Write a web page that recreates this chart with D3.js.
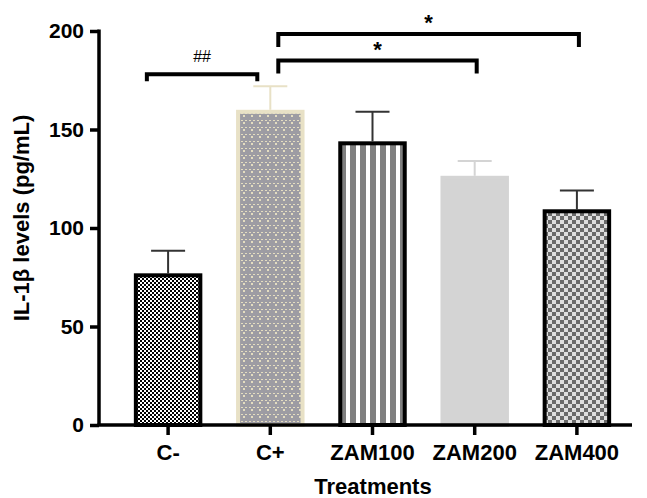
<!DOCTYPE html>
<html>
<head>
<meta charset="utf-8">
<script src="https://cdn.jsdelivr.net/npm/d3@7"></script>
<style>
  body { margin: 0; background: #ffffff; }
  text { font-family: "Liberation Sans", Arial, sans-serif; }
</style>
</head>
<body>
<div id="chart"></div>
<script>
const treatments = ["C-", "C+", "ZAM100", "ZAM200", "ZAM400"];
const meanValues = [77, 160, 144, 126.5, 109.5];
const errorValues = [11.5, 12, 15, 7.5, 9.5];
const yTicks = [0, 50, 100, 150, 200];

// significance brackets: from, to, height (pg/mL), label
const brackets = [
  { from: "C-", to: "C+", level: 178, label: "##" },
  { from: "C+", to: "ZAM200", level: 185, label: "*" },
  { from: "C+", to: "ZAM400", level: 198.5, label: "*" }
];

const width = 647;
const height = 498;

const svg = d3.select("#chart")
  .append("svg")
  .attr("width", width)
  .attr("height", height);

const defs = svg.append("defs");

// fine black/white checker
const p1 = defs.append("pattern").attr("id", "checkFine")
  .attr("patternUnits", "userSpaceOnUse").attr("width", 4).attr("height", 4);
p1.append("rect").attr("width", 4).attr("height", 4).attr("fill", "#ffffff");
p1.append("rect").attr("width", 2).attr("height", 2).attr("fill", "#000000");
p1.append("rect").attr("x", 2).attr("y", 2).attr("width", 2).attr("height", 2).attr("fill", "#000000");

// grey with cream dots
const p2 = defs.append("pattern").attr("id", "dots")
  .attr("patternUnits", "userSpaceOnUse").attr("width", 8).attr("height", 7);
p2.append("rect").attr("width", 8).attr("height", 7).attr("fill", "#9d9ca3");
p2.append("path").attr("d", "M1,1 h2 v1 h-2z M5,1 h2 v1 h-2z M3,3 h2 v2 h-2z")
  .attr("fill", "#e4ddc0");

// vertical stripes
const p3 = defs.append("pattern").attr("id", "stripes")
  .attr("patternUnits", "userSpaceOnUse").attr("width", 10).attr("height", 10);
p3.append("rect").attr("width", 10).attr("height", 10).attr("fill", "#ffffff");
p3.append("rect").attr("width", 6).attr("height", 10).attr("fill", "#808080");

// coarse grey checker
const p4 = defs.append("pattern").attr("id", "checkCoarse")
  .attr("patternUnits", "userSpaceOnUse").attr("width", 8).attr("height", 8);
p4.append("rect").attr("width", 8).attr("height", 8).attr("fill", "#dedede");
p4.append("rect").attr("width", 4).attr("height", 4).attr("fill", "#6a6a6a");
p4.append("rect").attr("x", 4).attr("y", 4).attr("width", 4).attr("height", 4).attr("fill", "#6a6a6a");

const barStyles = [
  { fill: "url(#checkFine)", stroke: "#000000", err: "#333333" },
  { fill: "url(#dots)", stroke: "#e8e1c6", err: "#e8e1c6" },
  { fill: "url(#stripes)", stroke: "#000000", err: "#333333" },
  { fill: "#d4d4d4", stroke: "#d4d4d4", err: "#d4d4d4" },
  { fill: "url(#checkCoarse)", stroke: "#000000", err: "#333333" }
];

const x = d3.scaleBand()
  .domain(treatments)
  .range([117, 628])
  .paddingInner(0.33)
  .paddingOuter(0.165);

const y = d3.scaleLinear()
  .domain([0, 200])
  .range([425, 31]);

const rows = treatments.map((t, i) => ({
  name: t,
  value: meanValues[i],
  err: errorValues[i],
  style: barStyles[i]
}));

// error bars (upper only)
const errG = svg.append("g");
rows.forEach(d => {
  const cx = x(d.name) + x.bandwidth() / 2;
  errG.append("line")
    .attr("x1", cx).attr("x2", cx)
    .attr("y1", y(d.value)).attr("y2", y(d.value + d.err))
    .attr("stroke", d.style.err).attr("stroke-width", 2);
  errG.append("line")
    .attr("x1", cx - 17).attr("x2", cx + 17)
    .attr("y1", y(d.value + d.err)).attr("y2", y(d.value + d.err))
    .attr("stroke", d.style.err).attr("stroke-width", 2);
});

// bars
svg.append("g")
  .selectAll("rect")
  .data(rows)
  .join("rect")
  .attr("x", d => x(d.name) + 2)
  .attr("y", d => y(d.value) + 2)
  .attr("width", x.bandwidth() - 4)
  .attr("height", d => y(0) - y(d.value) - 2)
  .attr("fill", d => d.style.fill)
  .attr("stroke", d => d.style.stroke)
  .attr("stroke-width", 4);

// axes
const yAxis = svg.append("g")
  .attr("transform", "translate(99,0)")
  .call(d3.axisLeft(y).tickValues(yTicks).tickSize(9).tickPadding(6));

yAxis.select(".domain").attr("stroke", "#000").attr("stroke-width", 3.5)
  .attr("d", `M0,${y(200) - 1.5}V${y(0)}`);
yAxis.selectAll(".tick line").attr("stroke", "#000").attr("stroke-width", 3.5);
yAxis.selectAll(".tick text")
  .attr("fill", "#000")
  .attr("font-size", "21px")
  .attr("font-weight", "bold")
  .attr("font-family", "Liberation Sans, Arial, sans-serif");

const xAxis = svg.append("g")
  .attr("transform", `translate(0,${y(0)})`)
  .call(d3.axisBottom(x).tickSize(10).tickPadding(9));

xAxis.select(".domain").attr("stroke", "#000").attr("stroke-width", 3.5)
  .attr("d", "M97.5,0H632");
xAxis.selectAll(".tick line").attr("stroke", "#000").attr("stroke-width", 3.5);
xAxis.selectAll(".tick text")
  .attr("fill", "#000")
  .attr("font-size", "22px")
  .attr("font-weight", "bold")
  .attr("font-family", "Liberation Sans, Arial, sans-serif");

// axis titles
svg.append("text")
  .attr("transform", "translate(29,218) rotate(-90)")
  .attr("text-anchor", "middle")
  .attr("font-size", "22px")
  .attr("font-weight", "bold")
  .text("IL-1β levels (pg/mL)");

svg.append("text")
  .attr("x", 373)
  .attr("y", 494)
  .attr("text-anchor", "middle")
  .attr("font-size", "22px")
  .attr("font-weight", "bold")
  .text("Treatments");

// significance brackets
const bG = svg.append("g");
brackets.forEach((b, i) => {
  const x1 = i === 0 ? x(b.from) + 13 : x(b.from) + x.bandwidth() / 2 + 8;
  const x2 = i === 0 ? x(b.to) + x.bandwidth() / 2 - 13 : x(b.to) + x.bandwidth() / 2 + 2;
  const yy = y(b.level);
  const leg = i === 0 ? 7 : 13;
  bG.append("path")
    .attr("d", `M${x1},${yy + leg}V${yy}H${x2}V${yy + leg}`)
    .attr("fill", "none")
    .attr("stroke", "#000")
    .attr("stroke-width", 4);
  bG.append("text")
    .attr("x", (x1 + x2) / 2)
    .attr("y", i === 0 ? yy - 12 : yy - 4)
    .attr("text-anchor", "middle")
    .attr("font-size", i === 0 ? "16px" : "22px")
    .attr("font-weight", i === 0 ? "normal" : "bold")
    .text(b.label);
});
</script>
</body>
</html>
